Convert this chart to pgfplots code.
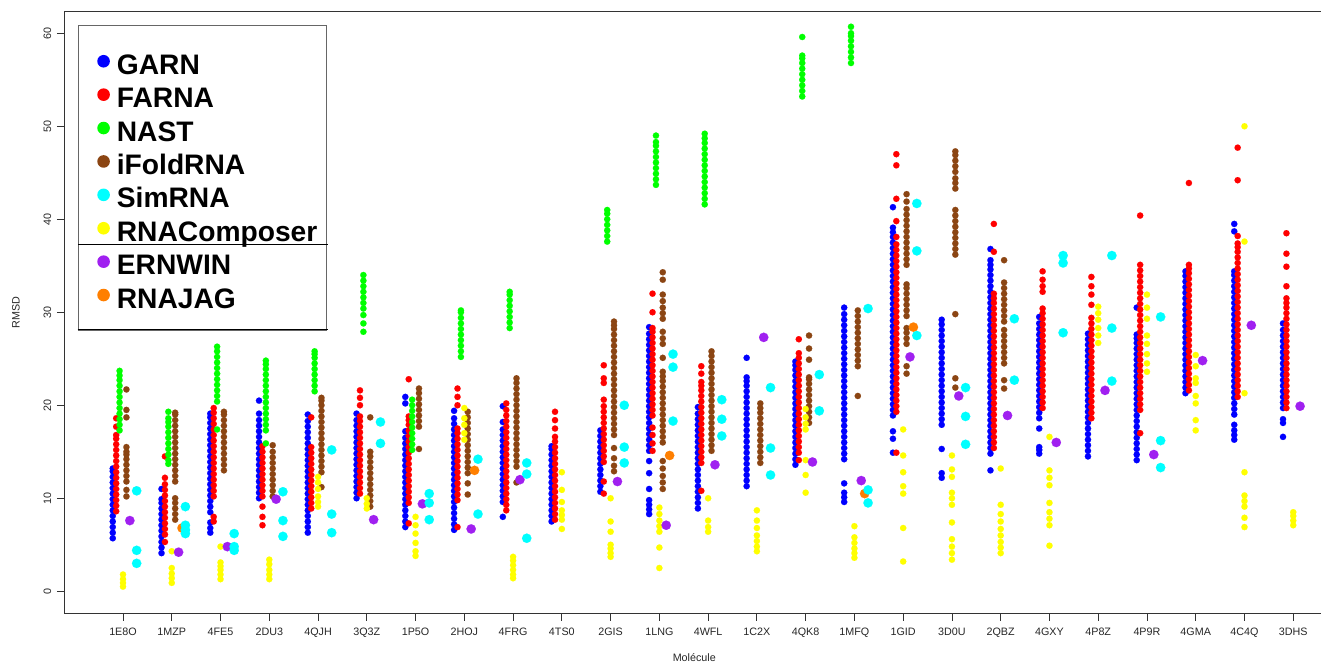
\documentclass[border=0pt]{standalone}
\usepackage{fontspec}
\setmainfont{Liberation Sans}
\usepackage{pgfplots}
\pgfplotsset{compat=1.18}
\definecolor{cGARN}{HTML}{0000FF}
\definecolor{cFARNA}{HTML}{FF0000}
\definecolor{cNAST}{HTML}{00FF00}
\definecolor{cIFOLD}{HTML}{8B4513}
\definecolor{cSIM}{HTML}{00FFFF}
\definecolor{cCOMP}{HTML}{FFFF00}
\definecolor{cERN}{HTML}{A020F0}
\definecolor{cJAG}{HTML}{FF7F00}
\newcommand\legdot[1]{\addlegendimage{legend image code/.code={\path[draw=none,fill=none] (-10bp,0bp)--(12bp,0bp);\fill[draw=none,fill=#1] (6bp,0bp) circle (6.3bp);}}}
\pgfplotsset{
  sm/.style={only marks, mark=*, mark size=3.15bp, forget plot, color=#1, mark options={draw=#1, fill=#1, line width=0.1bp}},
  bg/.style={only marks, mark=*, mark size=4.7bp, forget plot, color=#1, mark options={draw=#1, fill=#1, line width=0.1bp}},
}
\begin{document}
\begin{tikzpicture}[x=1bp,y=1bp]
\begin{pgfinterruptboundingbox}
\begin{axis}[
  at={(64.3bp,51.7bp)}, anchor=south west,
  scale only axis, width=1260bp, height=601.6bp,
  xmin=-1.204, xmax=24.637, ymin=-2.37, ymax=62.32,
  xtick={0,...,24},
  xticklabels={1E8O,1MZP,4FE5,2DU3,4QJH,3Q3Z,1P5O,2HOJ,4FRG,4TS0,2GIS,1LNG,4WFL,1C2X,4QK8,1MFQ,1GID,3D0U,2QBZ,4GXY,4P8Z,4P9R,4GMA,4C4Q,3DHS},
  ytick={0,10,...,60},
  xtick pos=bottom, ytick pos=left,
  tick align=outside, major tick length=7.5bp,
  tick style={black!80, line width=0.8bp},
  axis line style={black!80, line width=1bp},
  /pgf/number format/assume math mode=true,
  tick label style={font=\fontsize{10.8}{13}\selectfont, color=black!85},
  xticklabel style={anchor=north, inner sep=0pt},
  xticklabel shift=7bp,
  yticklabel style={rotate=90, anchor=south, inner sep=0pt},
  yticklabel shift=5.3bp,
  label style={font=\fontsize{10.8}{13}\selectfont, color=black!85},
  xlabel={Molécule}, ylabel={RMSD},
  xlabel style={at={(axis description cs:0.5,-0.0743)}, anchor=center},
  ylabel style={at={(axis description cs:-0.0383,0.5)}, anchor=center},
  legend style={at={(axis description cs:0.01087,0.9779)}, anchor=north west,
    draw=black!60, line width=1.2bp, fill=white,
    inner xsep=9bp, inner ysep=19.6bp, row sep=1.3bp, column sep=7bp,
    font=\fontsize{28.3}{30}\selectfont\bfseries,
    nodes={inner sep=0pt, text height=29.1bp, text depth=3bp},
    cells={anchor=west}},
  legend cell align=left,
]
\legdot{cGARN}\addlegendentry{GARN}
\legdot{cFARNA}\addlegendentry{FARNA}
\legdot{cNAST}\addlegendentry{NAST}
\legdot{cIFOLD}\addlegendentry{iFoldRNA}
\legdot{cSIM}\addlegendentry{SimRNA}
\legdot{cCOMP}\addlegendentry{RNAComposer}
\legdot{cERN}\addlegendentry{ERNWIN}
\legdot{cJAG}\addlegendentry{RNAJAG}

% GARN
\addplot[sm=cGARN, x filter/.expression={x-0.21}] coordinates {
(0,5.7)(0,6.3)(0,6.9)(0,7.5)(0,8.1)(0,8.7)(0,9.3)(0,9.9)(0,10.5)(0,11.1)(0,11.7)(0,12.3)(0,12.9)(0,13.2)
(1,4.1)(1,4.7)(1,5.3)(1,5.9)(1,6.5)(1,7.1)(1,7.7)(1,8.3)(1,8.9)(1,9.5)(1,9.9)(1,11.0)
(2,6.3)(2,6.8)(2,7.4)(2,8.5)(2,9.1)(2,9.7)(2,10.3)(2,10.9)(2,11.5)(2,12.1)(2,12.7)(2,13.3)(2,13.9)(2,14.5)(2,15.1)(2,15.7)(2,16.3)(2,16.9)(2,17.5)(2,18.1)(2,18.7)(2,19.1)
(3,10.0)(3,10.6)(3,11.2)(3,11.8)(3,12.4)(3,13.0)(3,13.6)(3,14.2)(3,14.8)(3,15.4)(3,16.0)(3,16.6)(3,17.2)(3,17.8)(3,18.4)(3,19.1)(3,20.5)
(4,6.3)(4,6.9)(4,7.5)(4,8.1)(4,8.7)(4,9.3)(4,9.9)(4,10.5)(4,11.1)(4,11.7)(4,12.3)(4,12.9)(4,13.5)(4,14.1)(4,14.7)(4,15.3)(4,15.9)(4,16.5)(4,17.1)(4,17.7)(4,18.3)(4,19.0)
(5,10.0)(5,10.6)(5,11.2)(5,11.8)(5,12.4)(5,13.0)(5,13.6)(5,14.2)(5,14.8)(5,15.4)(5,16.0)(5,16.6)(5,17.2)(5,17.8)(5,18.4)(5,19.1)
(6,6.9)(6,7.5)(6,8.1)(6,8.7)(6,9.3)(6,9.9)(6,10.5)(6,11.1)(6,11.7)(6,12.3)(6,12.9)(6,13.5)(6,14.1)(6,14.7)(6,15.3)(6,15.9)(6,16.5)(6,17.2)(6,20.2)(6,20.9)
(7,6.6)(7,7.2)(7,7.8)(7,8.4)(7,9.0)(7,9.6)(7,10.2)(7,10.8)(7,11.4)(7,12.0)(7,12.6)(7,13.2)(7,13.8)(7,14.4)(7,15.0)(7,15.6)(7,16.2)(7,16.8)(7,17.4)(7,18.0)(7,18.6)(7,19.4)
(8,8.0)(8,9.6)(8,10.2)(8,10.8)(8,11.4)(8,12.0)(8,12.6)(8,13.2)(8,13.8)(8,14.4)(8,15.0)(8,15.6)(8,16.2)(8,16.8)(8,17.4)(8,18.2)(8,19.9)
(9,7.5)(9,8.1)(9,8.7)(9,9.3)(9,9.9)(9,10.5)(9,11.1)(9,11.7)(9,12.3)(9,12.9)(9,13.5)(9,14.1)(9,14.7)(9,15.3)(9,15.6)
(10,10.7)(10,11.3)(10,11.9)(10,12.5)(10,13.1)(10,13.7)(10,14.3)(10,14.9)(10,15.5)(10,16.1)(10,16.7)(10,17.3)
(11,8.3)(11,8.8)(11,9.3)(11,9.8)(11,11.0)(11,12.7)(11,14.0)(11,15.1)(11,15.7)(11,16.3)(11,16.9)(11,17.5)(11,18.1)(11,18.7)(11,19.3)(11,19.9)(11,20.5)(11,21.1)(11,21.7)(11,22.3)(11,22.9)(11,23.5)(11,24.1)(11,24.7)(11,25.3)(11,25.9)(11,26.5)(11,27.1)(11,27.7)(11,28.4)
(12,8.9)(12,9.5)(12,10.1)(12,10.7)(12,11.3)(12,11.9)(12,12.5)(12,13.1)(12,13.7)(12,14.3)(12,14.9)(12,15.5)(12,16.1)(12,16.7)(12,17.3)(12,17.9)(12,18.5)(12,19.1)(12,19.8)
(13,11.3)(13,11.9)(13,12.5)(13,13.1)(13,13.7)(13,14.3)(13,14.9)(13,15.5)(13,16.1)(13,16.7)(13,17.3)(13,17.9)(13,18.5)(13,19.1)(13,19.7)(13,20.3)(13,20.9)(13,21.5)(13,22.1)(13,22.6)(13,23.0)(13,25.1)
(14,13.6)(14,14.2)(14,14.8)(14,15.4)(14,16.0)(14,16.6)(14,17.2)(14,17.8)(14,18.4)(14,19.0)(14,19.6)(14,20.2)(14,20.8)(14,21.4)(14,22.0)(14,22.6)(14,23.2)(14,23.8)(14,24.3)(14,24.7)
(15,9.6)(15,10.1)(15,10.6)(15,11.6)(15,14.2)(15,14.8)(15,15.4)(15,16.0)(15,16.6)(15,17.2)(15,17.8)(15,18.4)(15,19.0)(15,19.6)(15,20.2)(15,20.8)(15,21.4)(15,22.0)(15,22.6)(15,23.2)(15,23.8)(15,24.4)(15,25.0)(15,25.6)(15,26.2)(15,26.8)(15,27.4)(15,28.0)(15,28.6)(15,29.2)(15,29.8)(15,30.5)
(16,14.9)(16,16.4)(16,17.2)(16,18.9)(16,19.5)(16,20.1)(16,20.7)(16,21.3)(16,21.9)(16,22.5)(16,23.1)(16,23.7)(16,24.3)(16,24.9)(16,25.5)(16,26.1)(16,26.7)(16,27.3)(16,27.9)(16,28.5)(16,29.1)(16,29.7)(16,30.3)(16,30.9)(16,31.5)(16,32.1)(16,32.7)(16,33.3)(16,33.9)(16,34.5)(16,35.1)(16,35.7)(16,36.3)(16,36.9)(16,37.5)(16,38.1)(16,38.6)(16,39.1)(16,41.3)
(17,12.2)(17,12.7)(17,15.3)(17,17.9)(17,18.5)(17,19.1)(17,19.7)(17,20.3)(17,20.9)(17,21.5)(17,22.1)(17,22.7)(17,23.3)(17,23.9)(17,24.5)(17,25.1)(17,25.7)(17,26.3)(17,26.9)(17,27.5)(17,28.1)(17,28.7)(17,29.2)
(18,13.0)(18,14.8)(18,15.4)(18,16.0)(18,16.6)(18,17.2)(18,17.8)(18,18.4)(18,19.0)(18,19.6)(18,20.2)(18,20.8)(18,21.4)(18,22.0)(18,22.6)(18,23.2)(18,23.8)(18,24.4)(18,25.0)(18,25.6)(18,26.2)(18,26.8)(18,27.4)(18,28.0)(18,28.6)(18,29.2)(18,29.8)(18,30.4)(18,31.0)(18,31.6)(18,32.2)(18,32.8)(18,33.4)(18,34.0)(18,34.6)(18,35.1)(18,35.6)(18,36.8)
(19,14.8)(19,15.2)(19,15.5)(19,17.5)(19,18.6)(19,19.2)(19,19.8)(19,20.4)(19,21.0)(19,21.6)(19,22.2)(19,22.8)(19,23.4)(19,24.0)(19,24.6)(19,25.2)(19,25.8)(19,26.4)(19,27.0)(19,27.6)(19,28.2)(19,28.8)(19,29.5)
(20,14.5)(20,15.1)(20,15.7)(20,16.3)(20,16.9)(20,17.5)(20,18.1)(20,18.7)(20,19.3)(20,19.9)(20,20.5)(20,21.1)(20,21.7)(20,22.3)(20,22.9)(20,23.5)(20,24.1)(20,24.7)(20,25.3)(20,25.9)(20,26.5)(20,27.1)(20,27.7)
(21,14.1)(21,14.7)(21,15.3)(21,15.9)(21,16.5)(21,17.1)(21,17.7)(21,18.3)(21,18.9)(21,19.5)(21,20.1)(21,20.7)(21,21.3)(21,21.9)(21,22.5)(21,23.1)(21,23.7)(21,24.3)(21,24.9)(21,25.5)(21,26.1)(21,26.7)(21,27.2)(21,27.6)(21,30.5)
(22,21.3)(22,21.9)(22,22.5)(22,23.1)(22,23.7)(22,24.3)(22,24.9)(22,25.5)(22,26.1)(22,26.7)(22,27.3)(22,27.9)(22,28.5)(22,29.1)(22,29.7)(22,30.3)(22,30.9)(22,31.5)(22,32.1)(22,32.7)(22,33.3)(22,33.9)(22,34.4)
(23,16.3)(23,16.8)(23,17.3)(23,17.9)(23,19.0)(23,19.6)(23,20.2)(23,20.8)(23,21.4)(23,22.0)(23,22.6)(23,23.2)(23,23.8)(23,24.4)(23,25.0)(23,25.6)(23,26.2)(23,26.8)(23,27.4)(23,28.0)(23,28.6)(23,29.2)(23,29.8)(23,30.4)(23,31.0)(23,31.6)(23,32.2)(23,32.8)(23,33.4)(23,34.0)(23,34.4)(23,38.7)(23,39.5)
(24,16.6)(24,18.1)(24,18.5)(24,19.7)(24,20.3)(24,20.9)(24,21.5)(24,22.1)(24,22.7)(24,23.3)(24,23.9)(24,24.5)(24,25.1)(24,25.7)(24,26.3)(24,26.9)(24,27.5)(24,28.1)(24,28.8)
};
% FARNA
\addplot[sm=cFARNA, x filter/.expression={x-0.14}] coordinates {
(0,8.6)(0,9.2)(0,9.8)(0,10.4)(0,11.0)(0,11.6)(0,12.2)(0,12.8)(0,13.4)(0,14.0)(0,14.6)(0,15.2)(0,15.8)(0,16.4)(0,16.8)(0,17.7)(0,18.6)
(1,5.3)(1,6.1)(1,6.7)(1,7.3)(1,7.9)(1,8.5)(1,9.1)(1,9.7)(1,10.3)(1,10.9)(1,11.5)(1,12.2)(1,14.5)
(2,7.5)(2,8.0)(2,10.2)(2,10.8)(2,11.4)(2,12.0)(2,12.6)(2,13.2)(2,13.8)(2,14.4)(2,15.0)(2,15.6)(2,16.2)(2,16.8)(2,17.4)(2,18.0)(2,18.6)(2,19.2)(2,19.7)
(3,7.1)(3,8.0)(3,9.1)(3,10.2)(3,10.8)(3,11.4)(3,12.0)(3,12.6)(3,13.2)(3,13.8)(3,14.4)(3,15.0)(3,15.6)
(4,8.9)(4,9.5)(4,10.1)(4,10.7)(4,11.3)(4,11.9)(4,12.5)(4,13.1)(4,13.7)(4,14.3)(4,14.9)(4,15.5)(4,18.7)
(5,10.5)(5,11.1)(5,11.7)(5,12.3)(5,12.9)(5,13.5)(5,14.1)(5,14.7)(5,15.3)(5,15.9)(5,16.5)(5,17.1)(5,17.7)(5,18.3)(5,18.8)(5,20.0)(5,20.8)(5,21.6)
(6,7.3)(6,9.5)(6,10.1)(6,10.7)(6,11.3)(6,11.9)(6,12.5)(6,13.1)(6,13.7)(6,14.3)(6,14.9)(6,15.5)(6,16.1)(6,16.7)(6,17.3)(6,17.9)(6,18.4)(6,18.8)(6,22.8)
(7,6.9)(7,9.8)(7,10.4)(7,11.0)(7,11.6)(7,12.2)(7,12.8)(7,13.4)(7,14.0)(7,14.6)(7,15.2)(7,15.8)(7,16.4)(7,17.0)(7,17.5)(7,20.0)(7,20.9)(7,21.8)
(8,8.7)(8,9.3)(8,9.9)(8,10.5)(8,11.1)(8,11.7)(8,12.3)(8,12.9)(8,13.5)(8,14.1)(8,14.7)(8,15.3)(8,15.9)(8,16.5)(8,17.1)(8,17.7)(8,18.3)(8,18.9)(8,19.5)(8,20.2)
(9,7.7)(9,8.3)(9,8.9)(9,9.5)(9,10.1)(9,10.7)(9,11.3)(9,11.9)(9,12.5)(9,13.1)(9,13.7)(9,14.3)(9,14.9)(9,15.5)(9,16.1)(9,16.6)(9,17.5)(9,18.4)(9,19.3)
(10,10.5)(10,11.8)(10,13.9)(10,14.5)(10,15.1)(10,15.7)(10,16.3)(10,16.9)(10,17.5)(10,18.1)(10,18.7)(10,19.3)(10,19.9)(10,20.6)(10,22.4)(10,22.9)(10,24.3)
(11,15.1)(11,15.9)(11,16.8)(11,17.6)(11,18.9)(11,19.5)(11,20.1)(11,20.7)(11,21.3)(11,21.9)(11,22.5)(11,23.1)(11,23.7)(11,24.3)(11,24.9)(11,25.5)(11,26.1)(11,26.7)(11,27.3)(11,27.9)(11,28.3)(11,30.0)(11,32.0)
(12,10.8)(12,13.8)(12,14.4)(12,15.0)(12,15.6)(12,16.2)(12,16.8)(12,17.4)(12,18.0)(12,18.6)(12,19.2)(12,19.8)(12,20.4)(12,21.0)(12,21.6)(12,22.1)(12,22.5)(12,23.4)(12,24.2)
(14,14.1)(14,14.9)(14,15.5)(14,16.1)(14,16.7)(14,17.3)(14,17.9)(14,18.5)(14,19.1)(14,19.7)(14,20.3)(14,20.9)(14,21.5)(14,22.1)(14,22.7)(14,23.3)(14,23.9)(14,24.5)(14,25.1)(14,25.6)(14,27.1)
(16,14.9)(16,19.3)(16,19.9)(16,20.5)(16,21.1)(16,21.7)(16,22.3)(16,22.9)(16,23.5)(16,24.1)(16,24.7)(16,25.3)(16,25.9)(16,26.5)(16,27.1)(16,27.7)(16,28.3)(16,28.9)(16,29.5)(16,30.1)(16,30.7)(16,31.3)(16,31.9)(16,32.5)(16,33.1)(16,33.7)(16,34.3)(16,34.9)(16,35.5)(16,36.1)(16,36.7)(16,37.3)(16,38.1)(16,39.8)(16,42.2)(16,45.8)(16,47.0)
(18,15.4)(18,16.0)(18,16.6)(18,17.2)(18,17.8)(18,18.4)(18,19.0)(18,19.6)(18,20.2)(18,20.8)(18,21.4)(18,22.0)(18,22.6)(18,23.2)(18,23.8)(18,24.4)(18,25.0)(18,25.6)(18,26.2)(18,26.8)(18,27.4)(18,28.0)(18,28.6)(18,29.2)(18,29.8)(18,30.4)(18,31.0)(18,31.5)(18,32.0)(18,36.5)(18,39.5)
(19,19.7)(19,20.3)(19,20.9)(19,21.5)(19,22.1)(19,22.7)(19,23.3)(19,23.9)(19,24.5)(19,25.1)(19,25.7)(19,26.3)(19,26.9)(19,27.5)(19,28.1)(19,28.7)(19,29.3)(19,29.9)(19,30.4)(19,32.2)(19,32.8)(19,33.5)(19,34.4)
(20,18.6)(20,19.2)(20,19.8)(20,20.4)(20,21.0)(20,21.6)(20,22.2)(20,22.8)(20,23.4)(20,24.0)(20,24.6)(20,25.2)(20,25.8)(20,26.4)(20,27.0)(20,27.6)(20,28.2)(20,28.8)(20,29.4)(20,30.8)(20,31.9)(20,32.8)(20,33.8)
(21,17.0)(21,19.5)(21,20.1)(21,20.7)(21,21.3)(21,21.9)(21,22.5)(21,23.1)(21,23.7)(21,24.3)(21,24.9)(21,25.5)(21,26.1)(21,26.7)(21,27.3)(21,27.9)(21,28.5)(21,29.1)(21,29.7)(21,30.3)(21,30.9)(21,31.5)(21,32.1)(21,32.7)(21,33.3)(21,33.9)(21,34.5)(21,35.1)(21,40.4)
(22,21.6)(22,22.2)(22,22.8)(22,23.4)(22,24.0)(22,24.6)(22,25.2)(22,25.8)(22,26.4)(22,27.0)(22,27.6)(22,28.2)(22,28.8)(22,29.4)(22,30.0)(22,30.6)(22,31.2)(22,31.8)(22,32.4)(22,33.0)(22,33.6)(22,34.2)(22,34.7)(22,35.1)(22,43.9)
(23,20.9)(23,21.5)(23,22.1)(23,22.7)(23,23.3)(23,23.9)(23,24.5)(23,25.1)(23,25.7)(23,26.3)(23,26.9)(23,27.5)(23,28.1)(23,28.7)(23,29.3)(23,29.9)(23,30.5)(23,31.1)(23,31.7)(23,32.3)(23,32.9)(23,33.5)(23,34.1)(23,34.7)(23,35.3)(23,35.9)(23,36.5)(23,37.0)(23,37.4)(23,38.2)(23,44.2)(23,47.7)
(24,19.7)(24,20.3)(24,20.9)(24,21.5)(24,22.1)(24,22.7)(24,23.3)(24,23.9)(24,24.5)(24,25.1)(24,25.7)(24,26.3)(24,26.9)(24,27.5)(24,28.1)(24,28.7)(24,29.3)(24,29.9)(24,30.5)(24,31.0)(24,31.5)(24,32.8)(24,34.9)(24,36.3)(24,38.5)
};
% NAST
\addplot[sm=cNAST, x filter/.expression={x-0.07}] coordinates {
(0,17.3)(0,17.9)(0,18.5)(0,19.1)(0,19.7)(0,20.3)(0,20.9)(0,21.5)(0,22.1)(0,22.7)(0,23.2)(0,23.7)
(1,13.7)(1,14.1)(1,14.7)(1,15.3)(1,15.9)(1,16.5)(1,17.1)(1,17.7)(1,18.2)(1,18.6)(1,19.3)
(2,17.4)(2,20.4)(2,21.0)(2,21.6)(2,22.2)(2,22.8)(2,23.4)(2,24.0)(2,24.6)(2,25.2)(2,25.8)(2,26.3)
(3,15.9)(3,17.3)(3,17.9)(3,18.5)(3,19.1)(3,19.7)(3,20.3)(3,20.9)(3,21.5)(3,22.1)(3,22.7)(3,23.3)(3,23.9)(3,24.4)(3,24.8)
(4,21.5)(4,22.1)(4,22.7)(4,23.3)(4,23.9)(4,24.5)(4,25.1)(4,25.5)(4,25.8)
(5,27.9)(5,28.8)(5,29.7)(5,30.4)(5,31.0)(5,31.6)(5,32.2)(5,32.8)(5,33.4)(5,34.0)
(6,15.2)(6,15.8)(6,16.4)(6,17.0)(6,17.6)(6,18.2)(6,18.8)(6,19.4)(6,20.0)(6,20.6)
(7,25.2)(7,25.8)(7,26.4)(7,27.0)(7,27.6)(7,28.2)(7,28.8)(7,29.4)(7,30.0)(7,30.2)
(8,28.3)(8,28.9)(8,29.5)(8,30.1)(8,30.7)(8,31.3)(8,31.9)(8,32.2)
(10,37.6)(10,38.2)(10,38.8)(10,39.4)(10,40.0)(10,40.6)(10,41.0)
(11,43.7)(11,44.3)(11,44.9)(11,45.5)(11,46.1)(11,46.7)(11,47.3)(11,47.9)(11,48.3)(11,49.0)
(12,41.6)(12,42.2)(12,42.8)(12,43.4)(12,44.0)(12,44.6)(12,45.2)(12,45.8)(12,46.4)(12,47.0)(12,47.6)(12,48.2)(12,48.7)(12,49.2)
(14,53.2)(14,53.8)(14,54.4)(14,55.0)(14,55.6)(14,56.2)(14,56.8)(14,57.3)(14,57.6)(14,59.6)
(15,56.8)(15,57.4)(15,58.0)(15,58.6)(15,59.2)(15,59.7)(15,60.0)(15,60.7)
};
% iFoldRNA
\addplot[sm=cIFOLD, x filter/.expression={x+0.07}] coordinates {
(0,10.2)(0,10.9)(0,11.8)(0,12.4)(0,13.0)(0,13.6)(0,14.2)(0,14.7)(0,15.0)(0,15.5)(0,18.7)(0,19.5)(0,21.7)
(1,7.7)(1,8.3)(1,8.9)(1,9.5)(1,10.0)(1,11.8)(1,12.4)(1,13.0)(1,13.6)(1,14.2)(1,14.8)(1,15.4)(1,16.0)(1,16.6)(1,17.2)(1,17.8)(1,18.4)(1,19.0)(1,19.2)
(2,13.0)(2,13.6)(2,14.2)(2,14.8)(2,15.4)(2,16.0)(2,16.6)(2,17.2)(2,17.8)(2,18.4)(2,19.0)(2,19.3)
(3,10.2)(3,10.8)(3,11.4)(3,12.0)(3,12.6)(3,13.2)(3,13.8)(3,14.4)(3,15.0)(3,15.7)
(4,11.2)(4,12.8)(4,13.4)(4,14.0)(4,14.6)(4,15.2)(4,15.8)(4,16.4)(4,17.0)(4,17.6)(4,18.2)(4,18.8)(4,19.4)(4,20.0)(4,20.5)(4,20.8)
(5,9.1)(5,9.7)(5,10.3)(5,10.9)(5,11.5)(5,12.1)(5,12.7)(5,13.3)(5,13.9)(5,14.5)(5,15.0)(5,18.7)
(6,15.3)(6,17.7)(6,18.3)(6,18.9)(6,19.5)(6,20.1)(6,20.7)(6,21.3)(6,21.8)
(7,10.4)(7,11.6)(7,12.7)(7,13.3)(7,13.9)(7,14.5)(7,15.1)(7,15.7)(7,16.3)(7,16.9)(7,17.5)(7,18.1)(7,18.7)(7,19.3)
(8,11.7)(8,13.4)(8,14.0)(8,14.6)(8,15.2)(8,15.8)(8,16.4)(8,17.0)(8,17.6)(8,18.2)(8,18.8)(8,19.4)(8,20.0)(8,20.6)(8,21.2)(8,21.8)(8,22.4)(8,22.9)
(10,12.9)(10,13.5)(10,14.3)(10,15.4)(10,16.8)(10,17.4)(10,18.0)(10,18.6)(10,19.2)(10,19.8)(10,20.4)(10,21.0)(10,21.6)(10,22.2)(10,22.8)(10,23.4)(10,24.0)(10,24.6)(10,25.2)(10,25.8)(10,26.4)(10,27.0)(10,27.6)(10,28.2)(10,28.6)(10,29.0)
(11,11.0)(11,11.7)(11,12.4)(11,13.2)(11,14.0)(11,16.0)(11,16.6)(11,17.2)(11,17.8)(11,18.4)(11,19.0)(11,19.6)(11,20.2)(11,20.8)(11,21.4)(11,22.0)(11,22.6)(11,23.1)(11,23.6)(11,25.1)(11,26.6)(11,27.2)(11,27.9)(11,29.3)(11,29.9)(11,30.5)(11,31.2)(11,31.9)(11,33.5)(11,34.3)
(12,15.1)(12,15.7)(12,16.3)(12,16.9)(12,17.5)(12,18.1)(12,18.7)(12,19.3)(12,19.9)(12,20.5)(12,21.1)(12,21.7)(12,22.3)(12,22.9)(12,23.5)(12,24.1)(12,24.7)(12,25.3)(12,25.8)
(13,13.8)(13,14.4)(13,15.0)(13,15.6)(13,16.2)(13,16.8)(13,17.4)(13,18.0)(13,18.6)(13,19.2)(13,19.7)(13,20.2)
(14,18.1)(14,18.7)(14,19.3)(14,19.9)(14,20.5)(14,21.1)(14,21.7)(14,22.3)(14,22.8)(14,23.0)(14,24.9)(14,26.1)(14,27.5)
(15,21.0)(15,24.2)(15,24.8)(15,25.4)(15,26.0)(15,26.6)(15,27.2)(15,27.8)(15,28.4)(15,29.0)(15,29.6)(15,30.2)
(16,23.4)(16,24.2)(16,26.6)(16,27.2)(16,27.8)(16,28.3)(16,29.6)(16,30.2)(16,30.8)(16,31.4)(16,32.0)(16,32.6)(16,33.0)(16,35.1)(16,35.7)(16,36.3)(16,36.9)(16,37.5)(16,38.1)(16,38.7)(16,39.3)(16,39.9)(16,40.5)(16,41.1)(16,41.9)(16,42.7)
(17,21.9)(17,22.9)(17,29.8)(17,36.2)(17,36.8)(17,37.4)(17,38.0)(17,38.6)(17,39.2)(17,39.8)(17,40.4)(17,41.0)(17,43.3)(17,43.9)(17,44.4)(17,45.1)(17,45.7)(17,46.3)(17,46.9)(17,47.3)
(18,21.8)(18,22.7)(18,24.5)(18,25.1)(18,25.7)(18,26.3)(18,26.9)(18,27.5)(18,28.1)(18,29.0)(18,29.6)(18,30.2)(18,30.8)(18,31.4)(18,32.0)(18,32.6)(18,33.2)(18,35.6)
};
% RNAComposer
\addplot[sm=cCOMP] coordinates {
(0,0.5)(0,0.9)(0,1.3)(0,1.8)
(1,0.9)(1,1.4)(1,1.9)(1,2.5)(1,4.3)
(2,1.3)(2,1.8)(2,2.3)(2,2.7)(2,3.1)(2,4.8)
(3,1.3)(3,1.8)(3,2.3)(3,2.9)(3,3.4)
(4,9.1)(4,9.6)(4,10.2)(4,11.0)(4,11.7)(4,12.3)
(5,8.9)(5,9.4)(5,10.0)
(6,3.8)(6,4.3)(6,5.2)(6,6.2)(6,7.1)(6,8.0)
(7,16.3)(7,17.0)(7,17.9)(7,18.6)(7,19.7)
(8,1.4)(8,1.8)(8,2.3)(8,2.8)(8,3.3)(8,3.7)
(9,6.7)(9,7.7)(9,8.2)(9,8.7)(9,9.6)(9,10.9)(9,12.8)
(10,3.7)(10,4.1)(10,4.6)(10,5.0)(10,6.4)(10,7.5)(10,10.0)
(11,2.5)(11,4.7)(11,6.4)(11,7.0)(11,7.6)(11,8.3)(11,9.0)
(12,6.4)(12,6.9)(12,7.6)(12,10.0)
(13,4.3)(13,4.8)(13,5.4)(13,6.0)(13,6.8)(13,7.6)(13,8.7)
(14,10.6)(14,12.5)(14,14.1)(14,17.4)(14,18.0)(14,18.7)(14,19.6)
(15,3.6)(15,4.1)(15,4.6)(15,5.2)(15,5.8)(15,7.0)
(16,3.2)(16,6.8)(16,10.5)(16,11.3)(16,12.8)(16,14.6)(16,17.4)
(17,3.4)(17,4.1)(17,4.8)(17,5.6)(17,7.4)(17,9.3)(17,10.0)(17,10.6)(17,12.3)(17,13.1)(17,14.6)
(18,4.1)(18,4.7)(18,5.3)(18,6.0)(18,6.7)(18,7.5)(18,8.3)(18,9.3)(18,13.2)
(19,4.9)(19,7.1)(19,7.8)(19,8.5)(19,9.5)(19,11.4)(19,12.2)(19,13.0)(19,16.6)
(20,26.7)(20,27.5)(20,28.3)(20,29.2)(20,29.9)(20,30.6)
(21,23.6)(21,24.5)(21,25.5)(21,26.6)(21,27.5)(21,29.3)(21,30.5)(21,31.9)
(22,17.3)(22,18.4)(22,20.2)(22,21.0)(22,22.4)(22,22.9)(22,24.2)(22,25.4)
(23,6.9)(23,7.9)(23,9.1)(23,9.7)(23,10.3)(23,12.8)(23,21.3)(23,37.6)(23,50.0)
(24,7.1)(24,7.6)(24,8.1)(24,8.5)
};
% ERNWIN
\addplot[bg=cERN, x filter/.expression={x+0.14}] coordinates {
(0,7.6)(1,4.2)(2,4.8)(3,9.9)(5,7.7)(6,9.4)(7,6.7)(8,12.0)(10,11.8)(11,7.1)(12,13.6)(13,27.3)(14,13.9)(15,11.9)(16,25.2)(17,21.0)(18,18.9)(19,16.0)(20,21.6)(21,14.7)(22,24.8)(23,28.6)(24,19.9)
};
% RNAJAG
\addplot[bg=cJAG, x filter/.expression={x+0.21}] coordinates {
(1,6.8)(7,13.0)(11,14.6)(15,10.5)(16,28.4)
};
% SimRNA
\addplot[bg=cSIM, x filter/.expression={x+0.28}] coordinates {
(0,10.8)(0,4.4)(0,3.0)
(1,9.1)(1,7.1)(1,6.6)(1,6.2)
(2,6.2)(2,4.8)(2,4.4)
(3,10.7)(3,7.6)(3,5.9)
(4,15.2)(4,8.3)(4,6.3)
(5,18.2)(5,15.9)
(6,10.5)(6,9.5)(6,7.7)
(7,14.2)(7,8.3)
(8,13.8)(8,12.6)(8,5.7)
(10,20.0)(10,15.5)(10,13.8)
(11,25.5)(11,24.1)(11,18.3)
(12,20.6)(12,18.5)(12,16.7)
(13,21.9)(13,15.4)(13,12.5)
(14,23.3)(14,19.4)
(15,30.4)(15,10.9)(15,9.5)
(16,41.7)(16,36.6)(16,27.5)
(17,21.9)(17,18.8)(17,15.8)
(18,29.3)(18,22.7)
(19,36.1)(19,35.3)(19,27.8)
(20,36.1)(20,28.3)(20,22.6)
(21,29.5)(21,16.2)(21,13.3)
};
\end{axis}
\draw[line width=1bp] (78bp,420bp) -- (328bp,420bp);
\draw[line width=1.3bp] (77.5bp,335.4bp) -- (328bp,335.4bp);
\end{pgfinterruptboundingbox}
\path[use as bounding box] (0bp,0bp) rectangle (1321bp,665bp);
\end{tikzpicture}
\end{document}
